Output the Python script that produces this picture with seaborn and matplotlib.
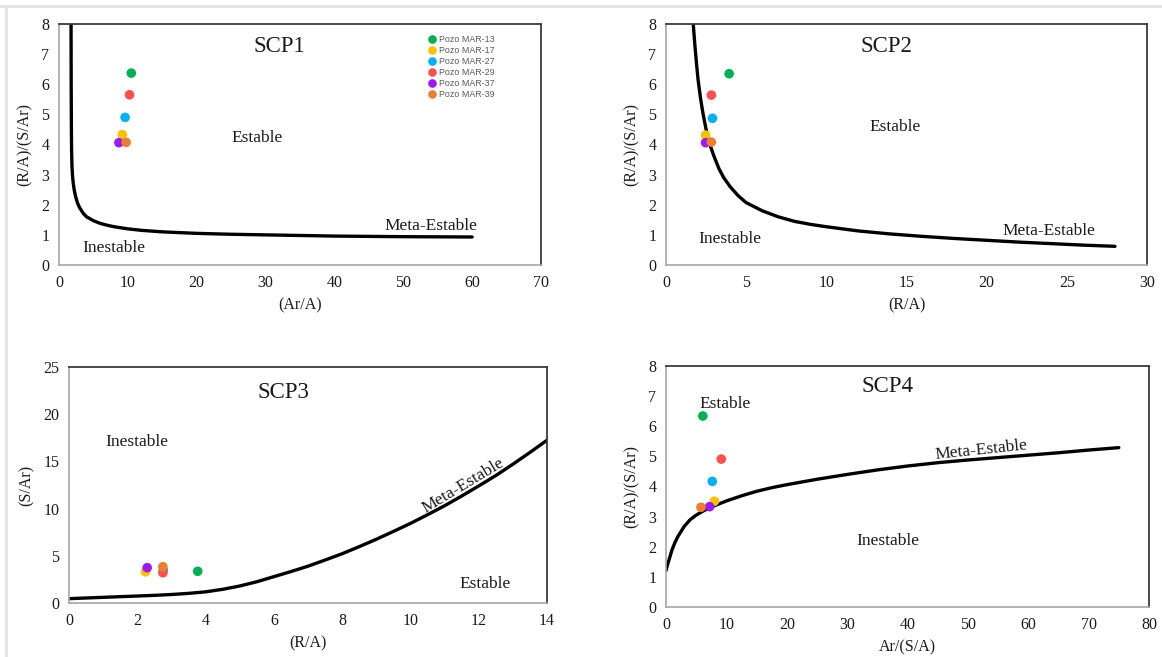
import numpy as np
import pandas as pd
import matplotlib
matplotlib.use("Agg")
import matplotlib.pyplot as plt
from matplotlib.lines import Line2D
import seaborn as sns

# ---- wells and colours ----
wells = ["Pozo MAR-13", "Pozo MAR-17", "Pozo MAR-27", "Pozo MAR-29", "Pozo MAR-37", "Pozo MAR-39"]
well_colors = ["#00B050", "#FFC000", "#00B0F0", "#FF5050", "#9E1AF5", "#ED7D31"]

# ---- SCP1: (Ar/A) vs (R/A)/(S/Ar) ----
scp1_x = [10.5, 9.2, 9.6, 10.24, 8.7, 9.75]
scp1_y = [6.37, 4.33, 4.90, 5.65, 4.06, 4.07]
scp1_curve_x = [1.75, 1.77, 1.8, 1.83, 1.88, 1.95, 2.05, 2.2, 2.4, 2.7, 3.0, 3.5, 4, 5, 6, 7, 8,
                10, 12, 15, 20, 25, 30, 40, 50, 60]
scp1_curve_y = [8.0, 6.0, 4.5, 3.8, 3.3, 3.0, 2.75, 2.5, 2.28, 2.05, 1.9, 1.72, 1.6, 1.47, 1.38, 1.32, 1.27,
                1.2, 1.15, 1.1, 1.05, 1.02, 1.0, 0.96, 0.94, 0.93]

# ---- SCP2: (R/A) vs (R/A)/(S/Ar) ----
scp2_x = [3.94, 2.47, 2.90, 2.83, 2.47, 2.83]
scp2_y = [6.35, 4.31, 4.87, 5.64, 4.06, 4.08]
scp2_curve_x = [1.7, 1.8, 1.9, 2.0, 2.15, 2.3, 2.5, 2.7, 3.0, 3.3, 3.6, 4.0, 4.5, 5, 6, 7, 8, 9, 10,
                12, 14, 16, 18, 20, 22, 24, 26, 28]
scp2_curve_y = [8.0, 7.3, 6.7, 6.15, 5.55, 5.05, 4.5, 4.05, 3.6, 3.2, 2.9, 2.6, 2.3, 2.07, 1.8, 1.6, 1.45, 1.35, 1.27,
                1.13, 1.03, 0.95, 0.88, 0.82, 0.76, 0.71, 0.66, 0.62]

# ---- SCP3: (R/A) vs (S/Ar) ----
scp3_x = [3.77, 2.24, 2.76, 2.75, 2.29, 2.75]
scp3_y = [3.36, 3.30, 3.50, 3.20, 3.74, 3.85]
scp3_curve_x = [0, 0.5, 1, 1.5, 2, 2.5, 3, 3.5, 4, 4.5, 5, 5.5, 6, 6.5, 7, 7.5, 8, 8.5, 9, 9.5,
                10, 10.5, 11, 11.5, 12, 12.5, 13, 13.5, 14]
scp3_curve_y = [0.46, 0.53, 0.6, 0.67, 0.74, 0.81, 0.9, 1.02, 1.18, 1.45, 1.8, 2.25, 2.79, 3.33, 3.9, 4.55,
                5.22, 5.97, 6.75, 7.58, 8.43, 9.35, 10.3, 11.33, 12.4, 13.5, 14.7, 15.95, 17.24]

# ---- SCP4: Ar/(S/A) vs (R/A)/(S/Ar) ----
scp4_x = [6.1, 8.0, 7.67, 9.16, 7.22, 5.79]
scp4_y = [6.34, 3.51, 4.17, 4.91, 3.33, 3.31]
scp4_curve_x = [0, 0.25, 0.55, 1.0, 1.5, 2, 3, 4, 5, 6, 7, 8, 10, 12.5, 15, 17.5, 20, 25, 30, 35,
                40, 45, 50, 55, 60, 65, 70, 75]
scp4_curve_y = [1.21, 1.4, 1.6, 1.9, 2.15, 2.35, 2.67, 2.9, 3.05, 3.17, 3.27, 3.36, 3.52, 3.69, 3.84, 3.96,
                4.06, 4.24, 4.4, 4.55, 4.68, 4.79, 4.88, 4.96, 5.04, 5.12, 5.21, 5.29]

sns.set_theme(style="white")
plt.rcParams["font.family"] = ["Liberation Serif", "DejaVu Serif"]
plt.rcParams["mathtext.default"] = "regular"

W, H = 1162, 657
fig = plt.figure(figsize=(W / 100, H / 100), dpi=100)
fig.patch.set_facecolor("white")

# light outer frame along top and left edges
fig.add_artist(Line2D([0, 1], [1 - 6 / H, 1 - 6 / H], color="#E3E3E3", lw=2, transform=fig.transFigure))
fig.add_artist(Line2D([6 / W, 6 / W], [0, 1 - 6 / H], color="#E3E3E3", lw=2, transform=fig.transFigure))


def make_axes(left, right, top, bottom):
    return fig.add_axes([left / W, 1 - bottom / H, (right - left) / W, (bottom - top) / H])


def style_axes(ax, xlim, ylim, xticks, yticks, xlabel, ylabel):
    ax.set_xlim(*xlim)
    ax.set_ylim(*ylim)
    ax.set_xticks(xticks)
    ax.set_yticks(yticks)
    ax.set_xlabel(xlabel, fontsize=11.5, color="#1a1a1a", labelpad=5)
    ax.set_ylabel(ylabel, fontsize=11.5, color="#1a1a1a", labelpad=6)
    for side in ("left", "bottom"):
        ax.spines[side].set_color("#A6A6A6")
        ax.spines[side].set_linewidth(1.2)
    for side in ("top", "right"):
        ax.spines[side].set_color("#3a3a3a")
        ax.spines[side].set_linewidth(1.3)
    ax.tick_params(axis="both", direction="out", length=4, width=1, color="#A6A6A6",
                   labelsize=11.5, labelcolor="#1a1a1a", pad=3)
    ax.grid(False)


def draw_panel(ax, cx, cy, px, py):
    curve = pd.DataFrame({"x": cx, "y": cy})
    sns.lineplot(data=curve, x="x", y="y", ax=ax, color="black", lw=2.4,
                 sort=False, estimator=None)
    pts = pd.DataFrame({"x": px, "y": py, "Pozo": wells})
    sns.scatterplot(data=pts, x="x", y="y", hue="Pozo", hue_order=wells,
                    palette=well_colors, s=48, edgecolor="none", ax=ax, legend=False, zorder=3)


txt = dict(fontsize=12.5, color="#1a1a1a", ha="center", va="center")
title = dict(fontsize=16.5, color="#1a1a1a", ha="center", va="center")

# SCP1
ax1 = make_axes(59, 541, 24, 265)
draw_panel(ax1, scp1_curve_x, scp1_curve_y, scp1_x, scp1_y)
style_axes(ax1, (0, 70), (0, 8), range(0, 71, 10), range(0, 9), "(Ar/A)", "(R/A)/(S/Ar)")
ax1.text(32, 7.26, "SCP1", **title)
ax1.text(28.7, 4.2, "Estable", **txt)
ax1.text(54.0, 1.29, "Meta-Estable", **txt)
ax1.text(7.9, 0.55, "Inestable", **txt)
handles = [Line2D([], [], ls="none", marker="o", ms=6.2, mec="none", mfc=c) for c in well_colors]
leg = ax1.legend(handles, wells, loc="upper left", bbox_to_anchor=(0.755, 0.972), frameon=False,
                 prop={"family": ["Liberation Sans", "DejaVu Sans"], "size": 6.4},
                 labelspacing=0.22, handletextpad=0.3, handlelength=1.0, borderpad=0)
for t in leg.get_texts():
    t.set_color("#595959")

# SCP2
ax2 = make_axes(666, 1147, 24, 265)
draw_panel(ax2, scp2_curve_x, scp2_curve_y, scp2_x, scp2_y)
style_axes(ax2, (0, 30), (0, 8), range(0, 31, 5), range(0, 9), "(R/A)", "(R/A)/(S/Ar)")
ax2.text(13.76, 7.25, "SCP2", **title)
ax2.text(14.26, 4.59, "Estable", **txt)
ax2.text(23.9, 1.12, "Meta-Estable", **txt)
ax2.text(4.0, 0.87, "Inestable", **txt)

# SCP3
ax3 = make_axes(69, 547, 367, 603)
draw_panel(ax3, scp3_curve_x, scp3_curve_y, scp3_x, scp3_y)
style_axes(ax3, (0, 14), (0, 25), range(0, 15, 2), range(0, 26, 5), "(R/A)", "(S/Ar)")
ax3.text(6.28, 22.3, "SCP3", **title)
ax3.text(1.98, 17.07, "Inestable", **txt)
ax3.text(12.2, 2.05, "Estable", **txt)
ax3.text(11.56, 12.4, "Meta-Estable", rotation=31, rotation_mode="anchor", **txt)

# SCP4
ax4 = make_axes(666, 1149, 366, 607)
draw_panel(ax4, scp4_curve_x, scp4_curve_y, scp4_x, scp4_y)
style_axes(ax4, (0, 80), (0, 8), range(0, 81, 10), range(0, 9), "Ar/(S/A)", "(R/A)/(S/Ar)")
ax4.text(36.7, 7.33, "SCP4", **title)
ax4.text(9.8, 6.75, "Estable", **txt)
ax4.text(52.2, 5.21, "Meta-Estable", rotation=6, rotation_mode="anchor", **txt)
ax4.text(36.7, 2.2, "Inestable", **txt)

fig.savefig("out.png", dpi=100, facecolor="white")
